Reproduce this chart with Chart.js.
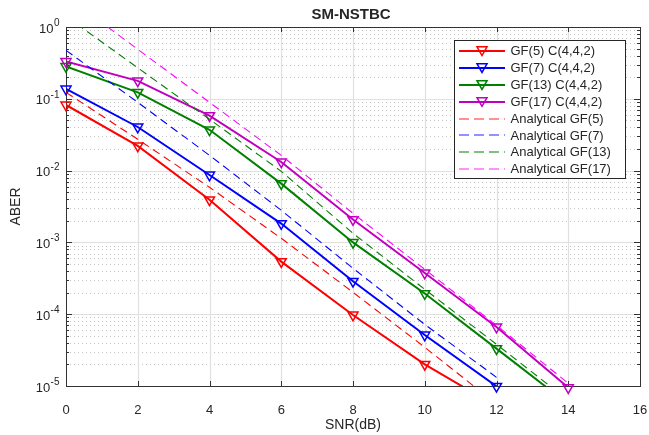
<!DOCTYPE html>
<html><head><meta charset="utf-8">
<script src="https://cdn.jsdelivr.net/npm/chart.js@4/dist/chart.umd.min.js"></script>
<style>html,body{margin:0;padding:0;background:#fff;}#wrap{width:649px;height:435px;}</style>
</head><body><div id="wrap"><canvas id="c" width="649" height="435"></canvas></div>
<script>
// ---- data ----
const snrSim5 = [0, 2, 4, 6, 8, 10, 12];
const gf5Sim = [0.082, 0.0221, 0.00392, 5.4e-4, 9.75e-5, 2.0e-5, 5.2e-6];
const snrSim7 = [0, 2, 4, 6, 8, 10, 12];
const gf7Sim = [0.137, 0.0405, 0.00869, 0.00183, 2.87e-4, 5.13e-5, 9.9e-6];
const snrSim13 = [0, 2, 4, 6, 8, 10, 12, 14];
const gf13Sim = [0.282, 0.123, 0.037, 0.00659, 1.0e-3, 1.94e-4, 3.32e-5, 5.6e-6];
const snrSim17 = [0, 2, 4, 6, 8, 10, 12, 14];
const gf17Sim = [0.331, 0.178, 0.0583, 0.0132, 0.00208, 3.75e-4, 6.64e-5, 9.5e-6];

const snrAna5 = [0, 2, 4, 6, 8, 10, 12];
const gf5Ana = [0.123, 0.0273, 0.00585, 0.00114, 2.02e-4, 3.46e-5, 5.6e-6];
const snrAna7 = [0, 2, 4, 6, 8, 10, 12];
const gf7Ana = [0.473, 0.0893, 0.0163, 0.0028, 4.36e-4, 7.2e-5, 1.32e-5];
const snrAna13 = [0, 2, 4, 6, 8, 10, 12, 14];
const gf13Ana = [1.41, 0.27, 0.0519, 0.00977, 1.34e-3, 2.22e-4, 3.81e-5, 6.3e-6];
const snrAna17 = [0, 2, 4, 6, 8, 10, 12, 14];
const gf17Ana = [2.68, 0.489, 0.0893, 0.0163, 2.54e-3, 4.22e-4, 7.0e-5, 1.09e-5];

const xTicks = [0, 2, 4, 6, 8, 10, 12, 14, 16];
const yDecades = [0, -1, -2, -3, -4, -5];
const legendLabels = ['GF(5) C(4,4,2)', 'GF(7) C(4,4,2)', 'GF(13) C(4,4,2)', 'GF(17) C(4,4,2)',
  'Analytical GF(5)', 'Analytical GF(7)', 'Analytical GF(13)', 'Analytical GF(17)'];
const titleText = 'SM-NSTBC';
const xTitle = 'SNR(dB)';
const yTitle = 'ABER';

// ---- styles ----
const simColors = ['#ff0000', '#0000ff', '#008000', '#bf00bf'];
const anaColors = ['#ff0000', '#0000ff', '#008000', '#ff00ff'];
const anaLegendColors = ['#ff6e6e', '#6e6eff', '#5aa85a', '#ff6eff'];
const FONT = '"Liberation Sans", Arial, Helvetica, sans-serif';
const TXT = '#262626';

const pts = (xs, ys) => xs.map((x, i) => ({ x: x, y: ys[i] }));
const simX = [snrSim5, snrSim7, snrSim13, snrSim17];
const simY = [gf5Sim, gf7Sim, gf13Sim, gf17Sim];
const anaX = [snrAna5, snrAna7, snrAna13, snrAna17];
const anaY = [gf5Ana, gf7Ana, gf13Ana, gf17Ana];

const datasets = [];
for (let i = 3; i >= 0; i--) {
  datasets.push({ data: pts(anaX[i], anaY[i]), borderColor: anaColors[i], borderWidth: 1.1,
    borderDash: [8, 5], pointRadius: 0, tension: 0, clip: 0, fill: false, order: 1 });
}
for (let i = 3; i >= 0; i--) {
  datasets.push({ data: pts(simX[i], simY[i]), showLine: false, pointStyle: 'triangle', pointRotation: 180,
    pointRadius: 5.8, pointBorderWidth: 1.5, pointBorderColor: simColors[i],
    pointBackgroundColor: 'rgba(0,0,0,0)', clip: false, order: 2 });
  datasets.push({ data: pts(simX[i], simY[i]), borderColor: simColors[i], borderWidth: 2,
    pointRadius: 0, tension: 0, clip: 0, fill: false, order: 3 });
}

function tri(ctx, x, y, r, color) {
  ctx.beginPath();
  ctx.moveTo(x - r * 0.866, y - r * 0.5);
  ctx.lineTo(x + r * 0.866, y - r * 0.5);
  ctx.lineTo(x, y + r);
  ctx.closePath();
  ctx.strokeStyle = color; ctx.lineWidth = 1.5; ctx.stroke();
}
function hline(ctx, x1, x2, y) { ctx.beginPath(); ctx.moveTo(x1, y); ctx.lineTo(x2, y); ctx.stroke(); }
function vline(ctx, x, y1, y2) { ctx.beginPath(); ctx.moveTo(x, y1); ctx.lineTo(x, y2); ctx.stroke(); }

const deco = {
  id: 'deco',
  beforeDatasetsDraw(chart) {
    const { ctx, chartArea: a, scales: { x, y } } = chart;
    ctx.save();
    ctx.strokeStyle = '#c4c4c4'; ctx.lineWidth = 1; ctx.setLineDash([1, 3]);
    for (let e = -5; e < 0; e++) for (let k = 2; k <= 9; k++) {
      const py = Math.round(y.getPixelForValue(k * Math.pow(10, e))) + 0.5;
      hline(ctx, a.left, a.right, py);
    }
    ctx.setLineDash([]);
    ctx.strokeStyle = '#e0e0e0'; ctx.lineWidth = 1.2;
    xTicks.slice(1, -1).forEach(v => vline(ctx, Math.round(x.getPixelForValue(v)) + 0.5, a.top, a.bottom));
    yDecades.slice(1, -1).forEach(e => hline(ctx, a.left, a.right, Math.round(y.getPixelForValue(Math.pow(10, e))) + 0.5));
    ctx.strokeStyle = '#333333'; ctx.lineWidth = 1;
    ctx.strokeRect(Math.round(a.left) + 0.5, Math.round(a.top) + 0.5, Math.round(a.right - a.left), Math.round(a.bottom - a.top));
    xTicks.forEach(v => {
      const px = Math.round(x.getPixelForValue(v)) + 0.5;
      vline(ctx, px, a.top, a.top + 5); vline(ctx, px, a.bottom, a.bottom - 5);
    });
    for (let e = -5; e <= 0; e++) {
      const py = Math.round(y.getPixelForValue(Math.pow(10, e))) + 0.5;
      hline(ctx, a.left, a.left + 6, py); hline(ctx, a.right, a.right - 6, py);
      if (e < 0) for (let k = 2; k <= 9; k++) {
        const q = Math.round(y.getPixelForValue(k * Math.pow(10, e))) + 0.5;
        hline(ctx, a.left, a.left + 3, q); hline(ctx, a.right, a.right - 3, q);
      }
    }
    ctx.restore();
  },
  afterDraw(chart) {
    const { ctx, chartArea: a, scales: { y } } = chart;
    ctx.save();
    ctx.fillStyle = TXT;
    yDecades.forEach(e => {
      const py = y.getPixelForValue(Math.pow(10, e));
      const sup = e === 0 ? '0' : '-' + (-e);
      ctx.textAlign = 'right'; ctx.textBaseline = 'middle';
      ctx.font = '10px ' + FONT;
      const sw = ctx.measureText(sup).width;
      ctx.fillText(sup, 59.5, py - 3.8);
      ctx.font = '13px ' + FONT;
      ctx.fillText('10', 59.5 - sw - 0.5, py + 2);
    });
    ctx.textAlign = 'center'; ctx.textBaseline = 'middle';
    ctx.font = 'bold 15px ' + FONT;
    ctx.fillText(titleText, (a.left + a.right) / 2 - 2, 15);
    ctx.font = '14px ' + FONT;
    ctx.fillText(xTitle, (a.left + a.right) / 2, 425);
    ctx.save();
    ctx.translate(16, (a.top + a.bottom) / 2);
    ctx.rotate(-Math.PI / 2);
    ctx.fillText(yTitle, 0, 0);
    ctx.restore();
    // legend
    const L = 454.5, T = 40.5, R = 625.5, B = 178.5;
    ctx.fillStyle = '#ffffff';
    ctx.fillRect(L, T, R - L, B - T);
    ctx.strokeStyle = '#262626'; ctx.lineWidth = 1;
    ctx.strokeRect(L, T, R - L, B - T);
    ctx.font = '13px ' + FONT; ctx.textAlign = 'left'; ctx.textBaseline = 'middle';
    for (let i = 0; i < legendLabels.length; i++) {
      const ry = 50.7 + i * 16.95;
      if (i < 4) {
        ctx.setLineDash([]);
        ctx.strokeStyle = simColors[i]; ctx.lineWidth = 2;
        hline(ctx, 459, 505, Math.round(ry));
        tri(ctx, 482, ry - 1, 5.8, simColors[i]);
      } else {
        ctx.setLineDash([10, 5]);
        ctx.lineWidth = 1.5;
        ctx.strokeStyle = anaLegendColors[i - 4];
        ctx.beginPath(); ctx.moveTo(459, Math.round(ry)); ctx.lineTo(505, Math.round(ry)); ctx.stroke();
        ctx.setLineDash([]);
      }
      ctx.fillStyle = TXT;
      ctx.fillText(legendLabels[i], 510.5, ry + 0.5);
    }
    ctx.restore();
  }
};

new Chart(document.getElementById('c'), {
  type: 'line',
  data: { datasets: datasets },
  plugins: [deco],
  options: {
    responsive: false, animation: false, devicePixelRatio: 1,
    layout: { padding: { top: 27, right: 9, left: 0, bottom: 0 } },
    plugins: { legend: { display: false }, tooltip: { enabled: false }, title: { display: false } },
    scales: {
      x: { type: 'linear', min: 0, max: 16,
        ticks: { stepSize: 2, color: TXT, font: { family: FONT, size: 13 }, padding: 17, maxRotation: 0, autoSkip: false },
        grid: { display: false, drawTicks: false }, border: { display: false },
        afterFit(s) { s.height = 49; s.paddingLeft = 0; s.paddingRight = 0; } },
      y: { type: 'logarithmic', min: 1e-5, max: 1,
        ticks: { display: false }, grid: { display: false, drawTicks: false }, border: { display: false },
        afterFit(s) { s.width = 66; s.paddingTop = 0; s.paddingBottom = 0; } }
    }
  }
});
</script>
</body></html>
